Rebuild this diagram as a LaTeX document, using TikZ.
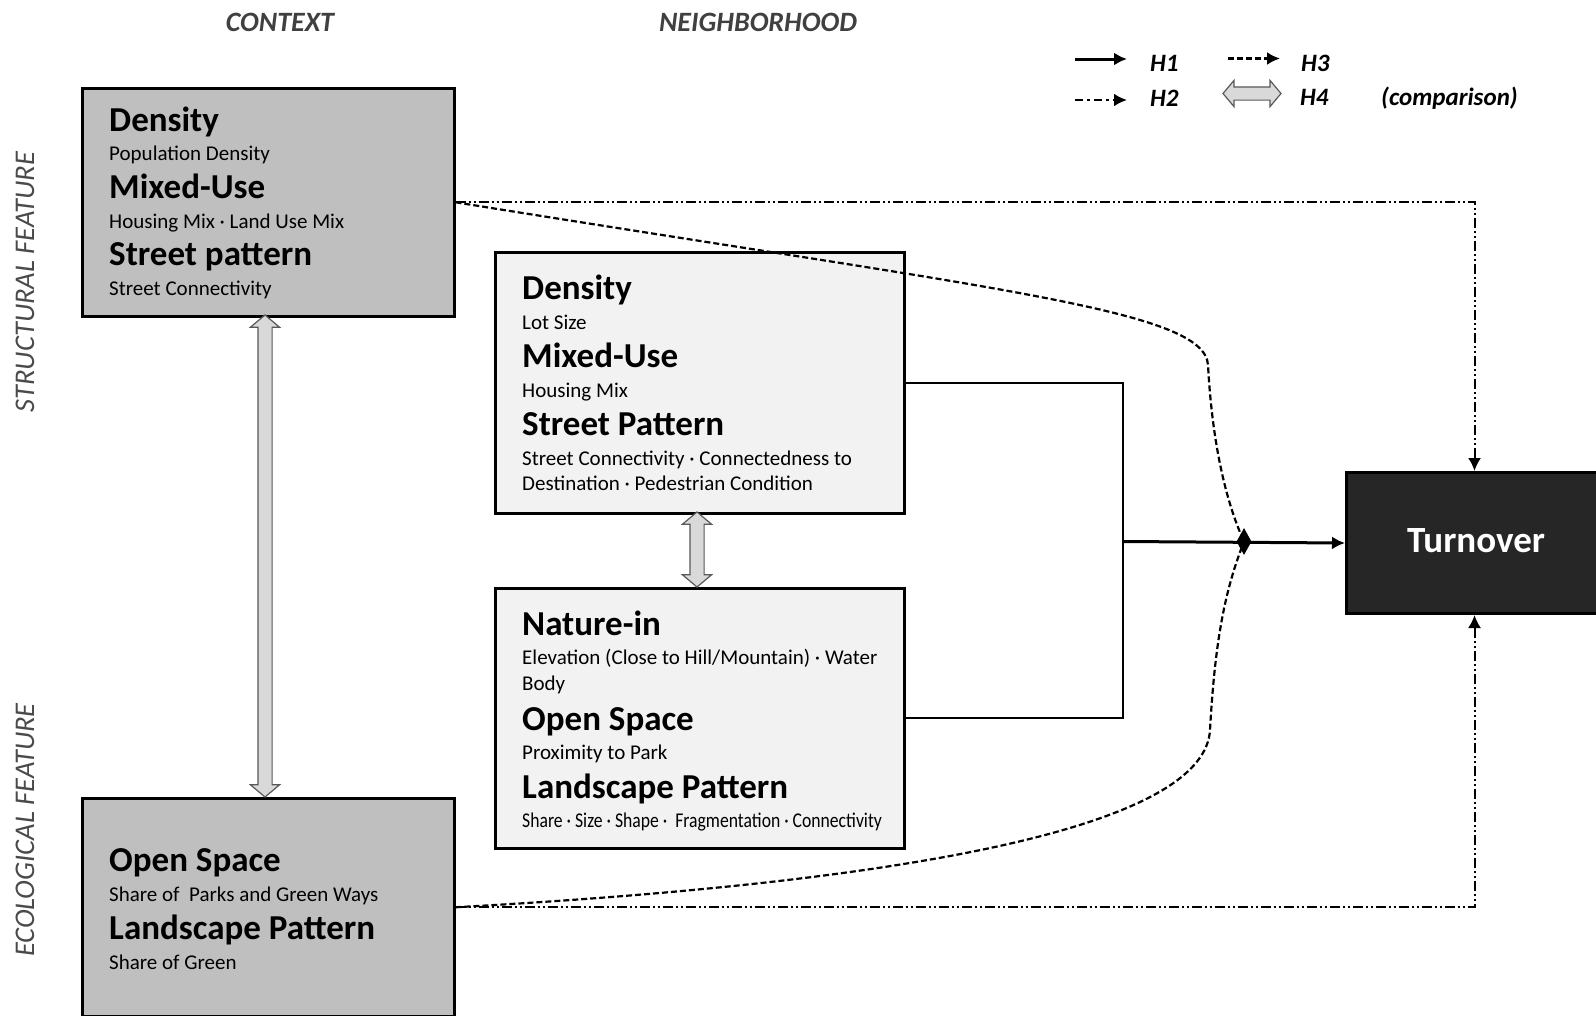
\documentclass[tikz,border=0pt]{standalone}
\usepackage{fontspec}
\setmainfont{Carlito}
\usetikzlibrary{arrows.meta,shapes.arrows,shapes.geometric}
\definecolor{ctxfill}{HTML}{BFBFBF}
\definecolor{nbfill}{HTML}{F2F2F2}
\definecolor{turnfill}{HTML}{262626}
\definecolor{cmpfill}{HTML}{D9D9D9}
\definecolor{cmpline}{HTML}{595959}
\definecolor{hdgray}{HTML}{404040}
\definecolor{sidegray}{HTML}{4A4A4A}
\begin{document}
\begin{tikzpicture}[x=1pt,y=-1pt,
  box/.style={draw=black, line width=2.5pt, inner sep=0, anchor=north west},
  ctxbox/.style={box, fill=ctxfill, minimum width=372, },
  nbbox/.style={box, fill=nbfill, minimum width=409},
  hd/.style={anchor=base west, inner sep=0, font=\fontsize{35}{40}\selectfont\bfseries},
  sb/.style={anchor=base west, inner sep=0, font=\fontsize{21}{24}\selectfont},
  colhead/.style={inner sep=0, text=hdgray, font=\fontsize{28}{32}\selectfont\bfseries\itshape},
  sidelab/.style={inner sep=0, rotate=90, text=sidegray, font=\fontsize{28.5}{32}\selectfont\itshape},
  legtxt/.style={inner sep=0, anchor=base west, font=\fontsize{25}{30}\selectfont\bfseries\itshape},
  cmp/.style={double arrow, draw=cmpline, fill=cmpfill, line width=1.2pt, inner xsep=0pt, inner ysep=6.5pt,
    double arrow tip angle=100, double arrow head extend=7.5pt, rotate=90},
  hone/.style={line width=3pt, -{Latex[length=13pt,width=13pt]}},
  bracket/.style={line width=1.6pt},
  htwo/.style={line width=2pt, dash pattern=on 10pt off 3pt on 2pt off 3pt on 2pt off 3pt},
  htwoleg/.style={line width=2.5pt, dash pattern=on 8pt off 4pt on 3pt off 4pt},
  hthree/.style={line width=2.2pt, dash pattern=on 6pt off 3pt},
  tip/.style={-{Latex[length=13pt,width=13pt]}}
]
\useasboundingbox (0,0) rectangle (1596,1015);

% column and row headings
\node[colhead] (hctx) at (280,22) {CONTEXT};
\node[colhead] (hnb) at (758,22) {NEIGHBORHOOD};
\node[sidelab] (lstruct) at (25,282) {STRUCTURAL FEATURE};
\node[sidelab] (leco) at (25,830) {ECOLOGICAL FEATURE};

% legend
\coordinate (l1a) at (1075,59); \coordinate (l1b) at (1127,59);
\draw[hone] (l1a) -- (l1b);
\node[legtxt] (t1) at (1150,71.5) {H1};
\coordinate (l3a) at (1228,58.5); \coordinate (l3b) at (1280,58.5);
\draw[hthree, tip] (l3a) -- (l3b);
\node[legtxt] (t3) at (1301,71.5) {H3};
\coordinate (l2a) at (1075,100); \coordinate (l2b) at (1127,100);
\draw[htwoleg, tip] (l2a) -- (l2b);
\node[legtxt] (t2) at (1150,106) {H2};
\node[cmp, rotate=-90, minimum height=58, inner ysep=6pt, double arrow head extend=6.5pt] (l4) at (1252,93.5) {};
\node[legtxt] (t4) at (1300,105) {H4};
\node[legtxt] (tcmp) at (1381,105) {(comparison)};

% boxes
\node[ctxbox, minimum height=228] (ctxtop) at (81,87) {};
\node[ctxbox, minimum height=218] (ctxbot) at (81,797) {};
\node[nbbox, minimum height=261] (nbtop) at (494,251) {};
\node[nbbox, minimum height=260] (nbbot) at (494,587) {};
\node[box, fill=turnfill, line width=3pt, minimum width=256, minimum height=141] (turn) at (1345,471) {};
\node[inner sep=0, text=white, font=\fontsize{37}{40}\selectfont\bfseries] (turntxt) at (1476,541) {Turnover};

% context top text
\node[hd] (ct1) at (109,131) {Density};
\node[sb] (ct2) at (109,160.5) {Population Density};
\node[hd] (ct3) at (109,198) {Mixed-Use};
\node[sb] (ct4) at (109,228) {Housing Mix · Land Use Mix};
\node[hd] (ct5) at (109,265) {Street pattern};
\node[sb] (ct6) at (109,295) {Street Connectivity};

% context bottom text
\node[hd] (cb1) at (109,871) {Open Space};
\node[sb] (cb2) at (109,901) {Share of~ Parks and Green Ways};
\node[hd] (cb3) at (109,939) {Landscape Pattern};
\node[sb] (cb4) at (109,969) {Share of Green};

% neighborhood top text
\node[hd] (nt1) at (522,299) {Density};
\node[sb] (nt2) at (522,329) {Lot Size};
\node[hd] (nt3) at (522,367) {Mixed-Use};
\node[sb] (nt4) at (522,397) {Housing Mix};
\node[hd] (nt5) at (522,435) {Street Pattern};
\node[sb] (nt6) at (522,465) {Street Connectivity · Connectedness to};
\node[sb] (nt7) at (522,490.5) {Destination · Pedestrian Condition};

% neighborhood bottom text
\node[hd] (nb1) at (522,635) {Nature-in};
\node[sb] (nb2) at (522,664.5) {Elevation (Close to Hill/Mountain) · Water};
\node[sb] (nb3) at (522,690) {Body};
\node[hd] (nb4) at (522,730) {Open Space};
\node[sb] (nb5) at (522,759) {Proximity to Park};
\node[hd] (nb6) at (522,798) {Landscape Pattern};
\node[sb] (nb7) at (522,827.5) {\scalebox{0.84}[1]{Share · Size · Shape ·~ Fragmentation · Connectivity}};

% comparison arrows
\node[cmp, minimum height=482] (cmpctx) at (265,556) {};
\node[cmp, minimum height=75] (cmpnb) at (697,549.5) {};

% H1
\coordinate (bk) at (1123,541.5);
\coordinate (junc) at (1244,541.5);
\draw[bracket] (nbtop.east) -| (bk) |- (nbbot.east);
\draw[hone] (bk) -- (turn.west);

% H2
\draw[htwo, tip] (ctxtop.east) -| (turn.north);
\draw[htwo, tip] (ctxbot.east) -| (turn.south);

% H3
\draw[hthree] (ctxtop.east) .. controls (1000,290) and (1205,310) .. (1208,365)
  .. controls (1212,440) and (1225,500) .. (junc);
\draw[hthree] (ctxbot.east) .. controls (950,880) and (1205,820) .. (1210,730)
  .. controls (1215,640) and (1225,590) .. (junc);
\node[diamond, fill=black, inner sep=0, minimum width=15, minimum height=27] (jd) at (junc) {};
\end{tikzpicture}
\end{document}
